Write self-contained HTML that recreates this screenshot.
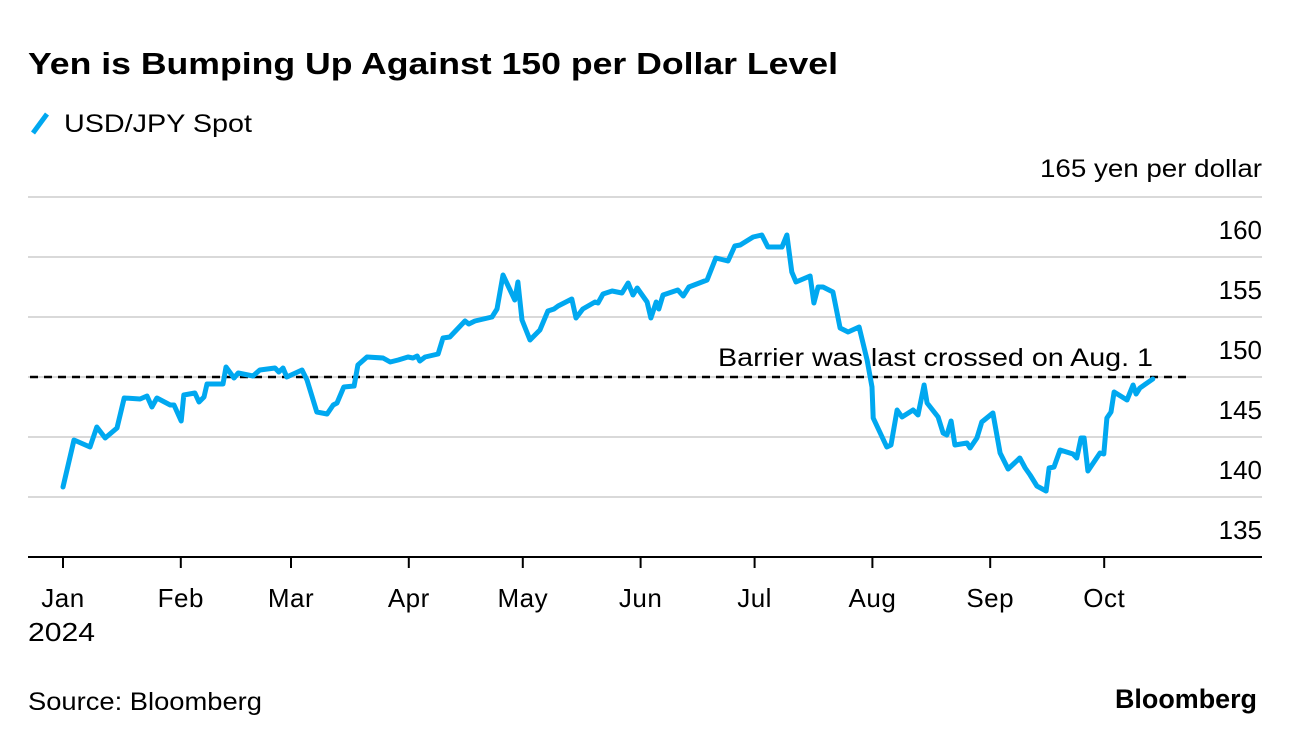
<!DOCTYPE html>
<html><head><meta charset="utf-8"><style>
body{margin:0;background:#fff;font-family:"Liberation Sans",Arial,sans-serif;}
svg{display:block}
</style></head><body>
<svg width="1296" height="744" xmlns="http://www.w3.org/2000/svg" font-family="Liberation Sans, Arial, sans-serif">
<text x="28" y="74" font-size="31" font-weight="bold" fill="#000" textLength="810" lengthAdjust="spacingAndGlyphs">Yen is Bumping Up Against 150 per Dollar Level</text>
<g>
<line x1="33" y1="133" x2="47" y2="114" stroke="#00a8f0" stroke-width="5"/>
<text x="64" y="132" font-size="25" fill="#000" textLength="188" lengthAdjust="spacingAndGlyphs">USD/JPY Spot</text>
</g>
<text x="1262" y="177" font-size="25" text-anchor="end" fill="#000" textLength="222" lengthAdjust="spacingAndGlyphs">165 yen per dollar</text>
<g id="grid"></g>
<g id="yticks"></g>
<g id="xaxis"></g>
<g id="plot"></g>
<text x="28" y="710" font-size="25" fill="#000" textLength="234" lengthAdjust="spacingAndGlyphs">Source: Bloomberg</text>
<text x="1257" y="708" font-size="27" font-weight="bold" text-anchor="end" fill="#000" textLength="142" lengthAdjust="spacingAndGlyphs">Bloomberg</text>
</svg>
<script>
const yTicks=[160,155,150,145,140,135];
const gridVals=[165,160,155,150,145,140];
const monthLabels=["Jan","Feb","Mar","Apr","May","Jun","Jul","Aug","Sep","Oct"];
const monthDays=[0,31,60,91,121,152,182,213,244,274];
const barrier=150;
const barrierLabel="Barrier was last crossed on Aug. 1";
const days=[0,2.9,7.1,8.9,11.1,14.2,16.1,20.3,22.1,23.4,24.7,28.2,29.2,31.1,31.8,34.7,35.8,37.1,37.9,42.1,42.9,45,46.1,50,51.8,55.8,56.8,57.9,58.9,62.9,64.2,66.8,69.5,71.1,72.1,73.9,76.6,77.6,80,84.2,86.1,88.2,90.8,92.1,93.2,93.9,95.3,98.7,100,101.8,105.8,106.8,108.4,112.9,114.2,115.8,118.9,119.7,120.8,122.9,125.5,127.6,129.2,130.3,133.9,135,136.8,140,140.8,142.1,144.5,147.1,148.7,150,151.1,153.7,154.7,156.1,156.8,157.9,161.8,163.2,164.7,169.5,171.8,175,176.8,178.2,181.6,183.9,185.5,189.2,190.5,191.8,192.9,196.6,197.6,198.7,200,202.6,204.5,206.6,209.5,211.6,212.9,213.2,216.8,217.9,219.5,220.8,223.7,225,226.6,227.4,230.3,231.6,232.6,233.7,234.7,237.9,238.7,240.5,241.8,244.7,246.6,248.7,251.8,253.2,254.5,256.3,258.7,259.5,260.8,262.4,265.8,266.8,267.9,268.7,269.7,272.9,273.9,274.7,275.8,276.6,280,281.6,282.4,283.4,286.8];
const values=[140.83,144.75,144.17,145.83,144.92,145.75,148.25,148.17,148.42,147.5,148.25,147.67,147.67,146.33,148.5,148.67,147.92,148.33,149.42,149.42,150.83,149.92,150.33,150.08,150.58,150.75,150.42,150.75,150,150.58,149.75,147.08,146.92,147.67,147.83,149.17,149.25,151,151.67,151.58,151.25,151.42,151.67,151.58,151.75,151.33,151.67,151.92,153.25,153.33,154.67,154.42,154.67,155,155.67,158.5,156.42,157.92,154.75,153.08,153.92,155.5,155.67,155.92,156.5,154.92,155.67,156.25,156.17,156.92,157.17,157,157.83,156.83,157.42,156.25,154.92,156.25,155.67,156.83,157.25,156.75,157.5,158.08,159.92,159.67,160.92,161,161.67,161.83,160.83,160.83,161.83,158.75,157.92,158.42,156.17,157.5,157.5,157.08,154.08,153.75,154.17,151.42,149.17,146.58,144.17,144.33,147.25,146.67,147.25,146.83,149.33,147.83,146.67,145.33,145.17,146.33,144.33,144.5,144.08,144.92,146.25,147,143.67,142.33,143.25,142.42,141.83,140.92,140.5,142.42,142.5,143.92,143.58,143.25,144.92,144.92,142.17,143.67,143.58,146.58,147.08,148.75,148.08,149.33,148.58,149.08,149.83];

const NS="http://www.w3.org/2000/svg";
const X=d=>63+d*3.8;
const Y=v=>197+(165-v)*12;
function mk(tag,attrs,parent,text){const e=document.createElementNS(NS,tag);for(const k in attrs)e.setAttribute(k,attrs[k]);if(text!==undefined)e.textContent=text;document.getElementById(parent).appendChild(e);return e;}
gridVals.forEach(v=>{
  const l=mk('line',{x1:28,x2:1262,y1:Y(v),y2:Y(v),stroke:'#d9d9d9','stroke-width':2},'grid');
  
  
});
yTicks.forEach(v=>{
  const t=mk('text',{x:1262,y:Y(v)-18,'font-size':26,'text-anchor':'end',fill:'#000'},'yticks',String(v));
  
  
});
const base=mk('line',{x1:28,x2:1262,y1:557,y2:557,stroke:'#000','stroke-width':2},'xaxis');


monthLabels.forEach((m,i)=>{
  const x=X(monthDays[i]);
  const tk=mk('line',{x1:x,x2:x,y1:557,y2:568,stroke:'#000','stroke-width':2},'xaxis');
  
  
  const t=mk('text',{x:x,y:607,'font-size':26,'text-anchor':'middle',fill:'#000','letter-spacing':0.5},'xaxis',m);
  
  
});
const yr=mk('text',{x:28,y:641,'font-size':26,fill:'#000',textLength:67,lengthAdjust:'spacingAndGlyphs'},'xaxis','2024');


const bl=mk('line',{x1:30,x2:1187,y1:Y(barrier),y2:Y(barrier),stroke:'#000','stroke-width':2.5,'stroke-dasharray':'8,6'},'plot');


const bt=mk('text',{x:718,y:Y(barrier)-11,'font-size':25,fill:'#000',textLength:435,lengthAdjust:'spacingAndGlyphs'},'plot',barrierLabel);


const pts=days.map((d,i)=>X(d).toFixed(1)+','+Y(values[i]).toFixed(1)).join(' ');
const pl=mk('polyline',{points:pts,fill:'none',stroke:'#00a8f0','stroke-width':5,'stroke-linejoin':'round','stroke-linecap':'round'},'plot');


</script>
</body></html>
